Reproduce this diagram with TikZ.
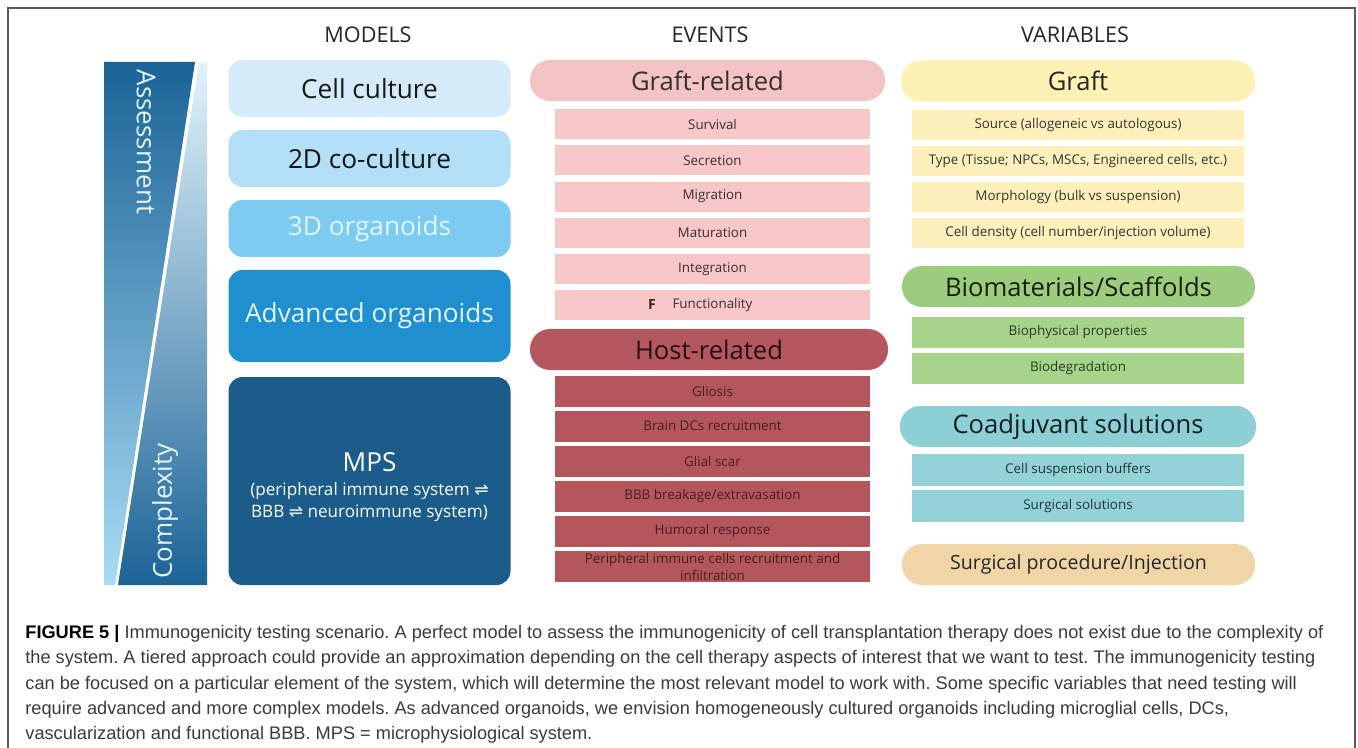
\documentclass[tikz,border=0pt]{standalone}
\usepackage{fontspec}
\setmainfont{Open Sans}
\newfontfamily\capfont{Liberation Sans}
\newfontfamily\arrowfont{DejaVu Sans}
\definecolor{framegray}{HTML}{5A5A5A}
\definecolor{mA}{HTML}{D5EBF9}
\definecolor{mB}{HTML}{B3DFF7}
\definecolor{mC}{HTML}{7ECBF1}
\definecolor{mD}{HTML}{1F8FCF}
\definecolor{mE}{HTML}{1B5C8A}
\definecolor{gpill}{HTML}{F4C3C3}
\definecolor{gitem}{HTML}{F8C8C8}
\definecolor{gtext}{HTML}{3A2E2E}
\definecolor{hpill}{HTML}{B5575E}
\definecolor{hitem}{HTML}{B4575D}
\definecolor{htext}{HTML}{4A1C1F}
\definecolor{ypill}{HTML}{FDF1B3}
\definecolor{yitem}{HTML}{FDF0BB}
\definecolor{vpill}{HTML}{9CCD7E}
\definecolor{vitem}{HTML}{A6D48A}
\definecolor{vtext}{HTML}{2B3A22}
\definecolor{tpill}{HTML}{8CCFD5}
\definecolor{titem}{HTML}{93D2D7}
\definecolor{ttext}{HTML}{1F3436}
\definecolor{spill}{HTML}{F0D6A6}
\definecolor{bardark}{HTML}{1B6396}
\definecolor{barmid}{HTML}{4FA6DA}
\definecolor{barlight}{HTML}{A8DCF5}
\definecolor{barpale}{HTML}{E2F4FC}
\definecolor{captext}{HTML}{3B3B3B}
\begin{document}
\frenchspacing
\begin{tikzpicture}[x=0.5pt,y=-0.5pt,
  modelbox/.style={rectangle, rounded corners=7pt, minimum width=141pt, inner sep=0pt,
    align=center, font=\fontsize{13.1pt}{15.7pt}\selectfont},
  pill/.style={rectangle, rounded corners=10pt, minimum height=20.5pt, inner sep=0pt,
    font=\fontsize{12.8pt}{15pt}\selectfont},
  item/.style={rectangle, inner sep=0pt, align=center, font=\fontsize{6.7pt}{8.5pt}\selectfont},
  evitem/.style={item, minimum width=157.5pt, minimum height=15pt},
  varitem/.style={item, minimum width=166pt, minimum height=15pt},
  head/.style={font=\fontsize{10.8pt}{13pt}\selectfont, text=black!85},
  capline/.style={anchor=base west, inner sep=0pt, text=captext, font=\capfont\fontsize{9.1pt}{10pt}\selectfont}
]
\useasboundingbox (0,0) rectangle (1358,748);
\fill[white] (0,0) rectangle (1358,748);
\begin{scope}
\clip (0,0) rectangle (1358,748);
\draw[framegray, line width=0.8pt] (8,8) rectangle (1355,790);
\end{scope}

% headers
\node[head] (hmodels) at (368,35) {MODELS};
\node[head] (hevents) at (710,35) {EVENTS};
\node[head] (hvars) at (1075,35) {VARIABLES};

% left bar
\shade[top color=bardark, middle color=barmid, bottom color=barlight]
  (104,62) -- (195,62) -- (115,585) -- (104,585) -- cycle;
\shade[top color=barpale, middle color=barlight!80!barmid, bottom color=bardark]
  (199,62) -- (207,62) -- (207,585) -- (118,585) -- cycle;
\node[rotate=-90, text=barpale, font=\fontsize{13pt}{15pt}\selectfont] (assess) at (146,142) {Assessment};
\node[rotate=90, text=barpale, font=\fontsize{13pt}{15pt}\selectfont] (complex) at (165,511) {Complexity};

% models
\node[modelbox, fill=mA, minimum height=28.5pt, text=black!90] (m1) at (369.5,88.5) {Cell culture};
\node[modelbox, fill=mB, minimum height=28.5pt, text=black!92] (m2) at (369.5,158.5) {2D co-culture};
\node[modelbox, fill=mC, minimum height=28.5pt, text=barpale] (m3) at (369.5,228.5) {3D organoids};
\node[modelbox, fill=mD, minimum height=46pt, text=barpale] (m4) at (369.5,316) {Advanced organoids};
\node[modelbox, fill=mE, minimum height=104pt] (m5) at (369.5,481) {};
\node[text=white!95!mA, font=\fontsize{13.1pt}{15.7pt}\selectfont, inner sep=0pt] (mpst) at (369.5,462) {MPS};
\node[text=white!95!mA, font=\fontsize{8.55pt}{11pt}\selectfont, align=center, inner sep=0pt] (mpss) at (369.5,502)
  {(peripheral immune system {\arrowfont ⇌}\\BBB {\arrowfont ⇌} neuroimmune system)};

% events
\node[pill, fill=gpill, minimum width=177.5pt, text=gtext] (graftrel) at (707.5,80.5) {Graft-related};
\node[evitem, fill=gitem, text=gtext] (e1) at (712.5,124) {Survival};
\node[evitem, fill=gitem, text=gtext] (e2) at (712.5,160.3) {Secretion};
\node[evitem, fill=gitem, text=gtext] (e3) at (712.5,196.6) {Migration};
\node[evitem, fill=gitem, text=gtext] (e4) at (712.5,232.9) {Maturation};
\node[evitem, fill=gitem, text=gtext] (e5) at (712.5,269.2) {Integration};
\node[evitem, fill=gitem, text=gtext] (e6) at (712.5,305.5) {Functionality};
\node[font=\bfseries\fontsize{7pt}{8pt}\selectfont, text=black!85, inner sep=0pt] (fmark) at (652,305) {F};

\node[pill, fill=hpill, minimum width=179pt, text=black!80!hpill] (hostrel) at (709,349.5) {Host-related};
\node[evitem, fill=hitem, text=htext, minimum height=15.5pt] (h1) at (712.5,391) {Gliosis};
\node[evitem, fill=hitem, text=htext, minimum height=15.5pt] (h2) at (712.5,426.1) {Brain DCs recruitment};
\node[evitem, fill=hitem, text=htext, minimum height=15.5pt] (h3) at (712.5,461.2) {Glial scar};
\node[evitem, fill=hitem, text=htext, minimum height=15.5pt] (h4) at (712.5,496.3) {BBB breakage/extravasation};
\node[evitem, fill=hitem, text=htext, minimum height=15.5pt] (h5) at (712.5,531.4) {Humoral response};
\node[evitem, fill=hitem, text=htext, minimum height=15.5pt] (h6) at (712.5,566.5) {Peripheral immune cells recruitment and\\infiltration};

% variables
\node[pill, fill=ypill, minimum width=177pt, text=black!85] (vgraft) at (1078,81) {Graft};
\node[varitem, fill=yitem, text=black!80] (y1) at (1078,125.5) {Source (allogeneic vs autologous)};
\node[varitem, fill=yitem, text=black!80] (y2) at (1078,161.5) {Type (Tissue; NPCs, MSCs, Engineered cells, etc.)};
\node[varitem, fill=yitem, text=black!80] (y3) at (1078,197.5) {Morphology (bulk vs suspension)};
\node[varitem, fill=yitem, text=black!80] (y4) at (1078,233) {Cell density (cell number/injection volume)};

\node[pill, fill=vpill, minimum width=176.5pt, text=black!85!vpill] (vbio) at (1078.5,286.5) {Biomaterials/Scaffolds};
\node[varitem, fill=vitem, text=vtext, minimum height=15.5pt] (g1) at (1078,332.5) {Biophysical properties};
\node[varitem, fill=vitem, text=vtext, minimum height=15.5pt] (g2) at (1078,368) {Biodegradation};

\node[pill, fill=tpill, minimum width=178pt, text=black!85!tpill] (vcoad) at (1078,426.5) {Coadjuvant solutions};
\node[varitem, fill=titem, text=ttext, minimum height=16pt] (t1) at (1078,470) {Cell suspension buffers};
\node[varitem, fill=titem, text=ttext, minimum height=16pt] (t2) at (1078,506) {Surgical solutions};

\node[pill, fill=spill, minimum width=176.5pt, text=black!85, font=\fontsize{9.8pt}{12pt}\selectfont] (vsurg) at (1078.5,564.5) {Surgical procedure/Injection};

% caption
\node[capline] (c1) at (25,638) {{\color{black}\bfseries FIGURE 5 |} Immunogenicity testing scenario. A perfect model to assess the immunogenicity of cell transplantation therapy does not exist due to the complexity of};
\node[capline] (c2) at (25,663) {the system. A tiered approach could provide an approximation depending on the cell therapy aspects of interest that we want to test. The immunogenicity testing};
\node[capline] (c3) at (25,689) {can be focused on a particular element of the system, which will determine the most relevant model to work with. Some specific variables that need testing will};
\node[capline] (c4) at (25,714) {require advanced and more complex models. As advanced organoids, we envision homogeneously cultured organoids including microglial cells, DCs,};
\node[capline] (c5) at (25,739) {vascularization and functional BBB. MPS = microphysiological system.};
\end{tikzpicture}
\end{document}
